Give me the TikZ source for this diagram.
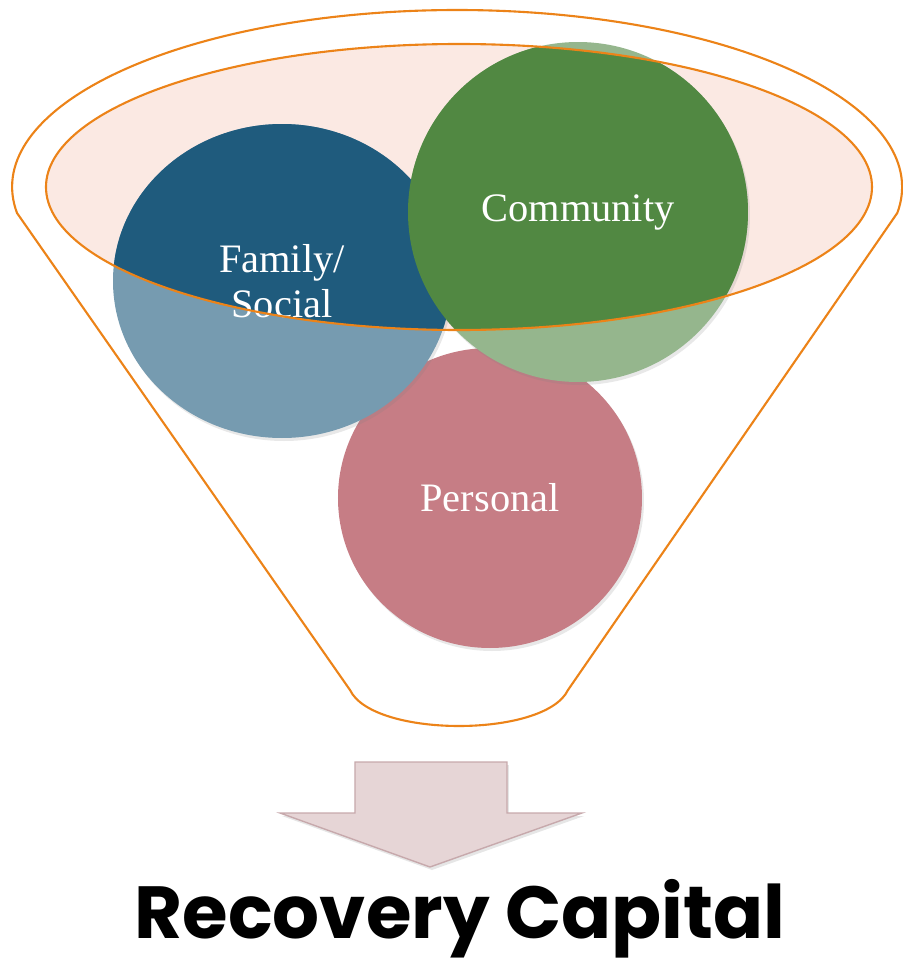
\documentclass[tikz,border=0pt]{standalone}
\usepackage{fontspec}
\setmainfont{Liberation Serif}
\newfontfamily\titlefont{Poppins}
\usepackage{tikz}
\usetikzlibrary{shapes.geometric, shadows}

\definecolor{funnelorange}{RGB}{236,131,24}
\definecolor{rimfill}{RGB}{251,233,227}
\definecolor{famdark}{RGB}{31,91,125}
\definecolor{famlight}{RGB}{118,155,176}
\definecolor{comdark}{RGB}{81,136,66}
\definecolor{comlight}{RGB}{149,182,141}
\definecolor{perscol}{RGB}{198,125,133}
\definecolor{arrowfill}{RGB}{230,213,214}
\definecolor{arrowline}{RGB}{199,169,172}

\begin{document}
\begin{tikzpicture}[
        funnel/.style={draw=funnelorange, line width=0.6pt},
        bubble/.style={ellipse, inner sep=0pt, outer sep=0pt, drop shadow={opacity=0.18, shadow xshift=0.02cm, shadow yshift=-0.03cm}},
        tag/.style={text=white, align=center, font=\fontsize{11.5}{12.8}\selectfont}]
        \useasboundingbox (0,0) rectangle (9.02,9.60);
        % funnel body
        \draw[funnel] (3.50,2.70) -- (0.17,7.47)
            arc[start angle=188.45, end angle=-8.45, x radius=4.45, y radius=1.77]
            -- (5.68,2.70) .. controls (5.45,2.22) and (3.73,2.22) .. (3.50,2.70);
        \fill[rimfill] (4.59,7.73) ellipse[x radius=4.13, y radius=1.43];
        % bubbles
        \node[bubble, fill=perscol, minimum width=3.04cm, minimum height=3.00cm] (P) at (4.90,4.62) {};
        \node[bubble, fill=famlight, minimum width=3.38cm, minimum height=3.14cm] (F) at (2.82,6.79) {};
        \node[bubble, fill=comlight, minimum width=3.40cm, minimum height=3.40cm] (C) at (5.78,7.48) {};
        \begin{scope}
            \clip (4.59,7.73) ellipse[x radius=4.13, y radius=1.43];
            \fill[famdark] (F.center) ellipse[x radius=1.69, y radius=1.57];
            \fill[comdark] (C.center) ellipse[x radius=1.70, y radius=1.70];
        \end{scope}
        \node[tag] (Ft) at (F.center) {Family/\\Social};
        \node[tag] (Ct) at (C.center) {Community};
        \node[tag] (Pt) at (P.center) {Personal};
        \draw[funnel] (4.59,7.73) ellipse[x radius=4.13, y radius=1.43];
        % arrow and result
        \draw[draw=arrowline, fill=arrowfill, drop shadow={opacity=0.2, shadow xshift=0.02cm, shadow yshift=-0.03cm}]
            (3.55,1.98) -- (5.07,1.98) -- (5.07,1.47) -- (5.82,1.47) -- (4.30,0.93)
            -- (2.80,1.47) -- (3.55,1.47) -- cycle;
        \node[anchor=base, font=\titlefont\bfseries\fontsize{21}{23}\selectfont] (RC) at (4.60,0.21) {Recovery Capital};
    \end{tikzpicture}
\end{document}
